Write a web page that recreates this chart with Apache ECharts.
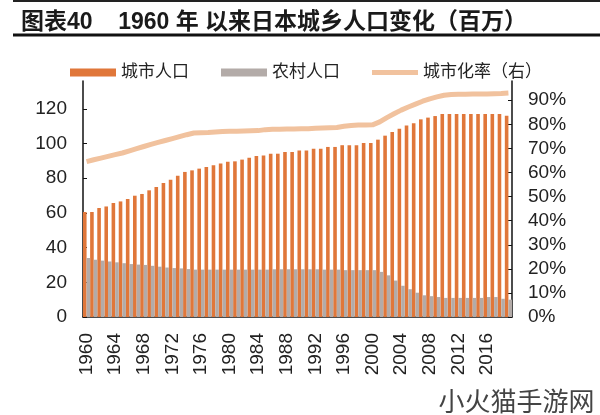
<!DOCTYPE html>
<html>
<head>
<meta charset="utf-8">
<script src="https://cdn.jsdelivr.net/npm/echarts@6/dist/echarts.min.js"></script>
<style>
html,body{margin:0;padding:0;background:#fff;}
#c{width:600px;height:415px;}
</style>
</head>
<body>
<div id="c"></div>
<script>
const years = ['1960','1961','1962','1963','1964','1965','1966','1967','1968','1969',
'1970','1971','1972','1973','1974','1975','1976','1977','1978','1979',
'1980','1981','1982','1983','1984','1985','1986','1987','1988','1989',
'1990','1991','1992','1993','1994','1995','1996','1997','1998','1999',
'2000','2001','2002','2003','2004','2005','2006','2007','2008','2009',
'2010','2011','2012','2013','2014','2015','2016','2017','2018','2019'];

const urbanPop = [60.5,60.5,62.8,63.7,65.7,66.6,68.0,69.9,70.9,73.0,
74.9,77.2,79.1,81.4,83.6,84.5,85.5,86.5,87.4,88.4,
89.5,89.7,90.7,91.8,92.8,93.0,94.1,94.1,95.1,95.1,
96.0,96.0,97.0,97.0,98.0,98.0,99.0,99.0,99.0,100.3,
100.3,102.2,104.5,106.6,108.5,110.4,111.6,113.9,114.9,115.8,
117.0,117.0,117.0,117.0,117.0,117.0,117.0,117.0,117.0,116.0];

const ruralPop = [34,33,32.5,32,31.5,31,30.5,30.2,30,29.5,
29,28.5,28.2,28,27.6,27.3,27.3,27.3,27.3,27.3,
27.3,27.3,27.3,27.3,27.3,27.3,27.5,27.5,27.5,27.5,
27.5,27.5,27.5,27.3,27.3,27.3,27,27,27,27,
27,26,24,21,18,16,14,12.5,12,11.5,
11,11,11,11,11,11,11.5,11.5,10.5,10];

const urbanRate = [64.5,65.3,66.0,66.7,67.4,68.1,69.0,69.9,70.8,71.7,
72.5,73.3,74.1,74.9,75.7,76.4,76.5,76.6,76.8,77.0,
77.1,77.1,77.2,77.3,77.4,77.8,78.0,78.0,78.1,78.1,
78.2,78.2,78.4,78.5,78.6,78.7,79.2,79.5,79.7,79.7,
79.8,81.0,82.8,84.4,85.9,87.2,88.4,89.6,90.6,91.4,
92.1,92.4,92.5,92.5,92.6,92.6,92.6,92.7,92.8,93.0];

const leftTicks = [0,20,40,60,80,100,120];
const rightTicks = [0,10,20,30,40,50,60,70,80,90];

const FONT = "'Liberation Sans','Noto Sans CJK SC',sans-serif";
const chart = echarts.init(document.getElementById('c'), null, {renderer:'canvas'});
chart.setOption({
  backgroundColor:'#fff',
  animation:false,
  title:{
    text:'图表40    1960 年 以来日本城乡人口变化（百万）',
    left:16, top:6,
    textStyle:{fontFamily:FONT, fontSize:23, fontWeight:'bold', color:'#1a1a1a'}
  },
  graphic:[
    {type:'line', shape:{x1:13,y1:1,x2:600,y2:1}, style:{stroke:'#222', lineWidth:2}},
    {type:'line', shape:{x1:13,y1:35,x2:600,y2:35}, style:{stroke:'#111', lineWidth:3}},
    {type:'text', left:438, top:388, style:{text:'小火猫手游网', font:"26px 'Noto Sans CJK SC'", fill:'#444', stroke:'#fff', lineWidth:1}}
  ],
  legend:{
    left:65, top:59,
    itemWidth:46, itemHeight:8, itemGap:32,
    textStyle:{fontFamily:FONT, fontSize:17, color:'#222'},
    data:[
      {name:'城市人口', icon:'rect'},
      {name:'农村人口', icon:'rect'},
      {name:'城市化率（右）', icon:'path://M0,0H46V5H0Z'}
    ]
  },
  grid:{left:83, right:88, top:81, bottom:98, containLabel:false},
  xAxis:{
    type:'category', data:years,
    axisLine:{lineStyle:{color:'#111', width:1.5}},
    axisTick:{inside:true, length:4, interval:0, lineStyle:{color:'#111'}},
    axisLabel:{interval:3, rotate:90, margin:16, fontFamily:FONT, fontSize:19, color:'#222'}
  },
  yAxis:[
    {type:'value', min:0, max:136, position:'left',
     splitLine:{show:false},
     axisLine:{show:true, lineStyle:{color:'#111', width:1.5}},
     axisTick:{show:true, inside:true, length:4, customValues:leftTicks, lineStyle:{color:'#111'}},
     axisLabel:{customValues:leftTicks, margin:16, fontFamily:FONT, fontSize:19, color:'#222'}},
    {type:'value', min:0, max:98, position:'right',
     splitLine:{show:false},
     axisLine:{show:true, lineStyle:{color:'#111', width:1.5}},
     axisTick:{show:true, inside:true, length:4, customValues:rightTicks, lineStyle:{color:'#111'}},
     axisLabel:{customValues:rightTicks, formatter:'{value}%', margin:16, fontFamily:FONT, fontSize:19, color:'#222'}}
  ],
  series:[
    {name:'城市人口', type:'bar', data:urbanPop, barWidth:3.6, barGap:'0%',
     itemStyle:{color:'#E0773A'}},
    {name:'农村人口', type:'bar', data:ruralPop, barWidth:3.6, barGap:'0%',
     itemStyle:{color:'#B3ABA8'}},
    {name:'城市化率（右）', type:'line', yAxisIndex:1, data:urbanRate, symbol:'none',
     lineStyle:{color:'#F1C29E', width:5}, itemStyle:{color:'#F1C29E'}, z:5}
  ]
});
</script>
</body>
</html>
